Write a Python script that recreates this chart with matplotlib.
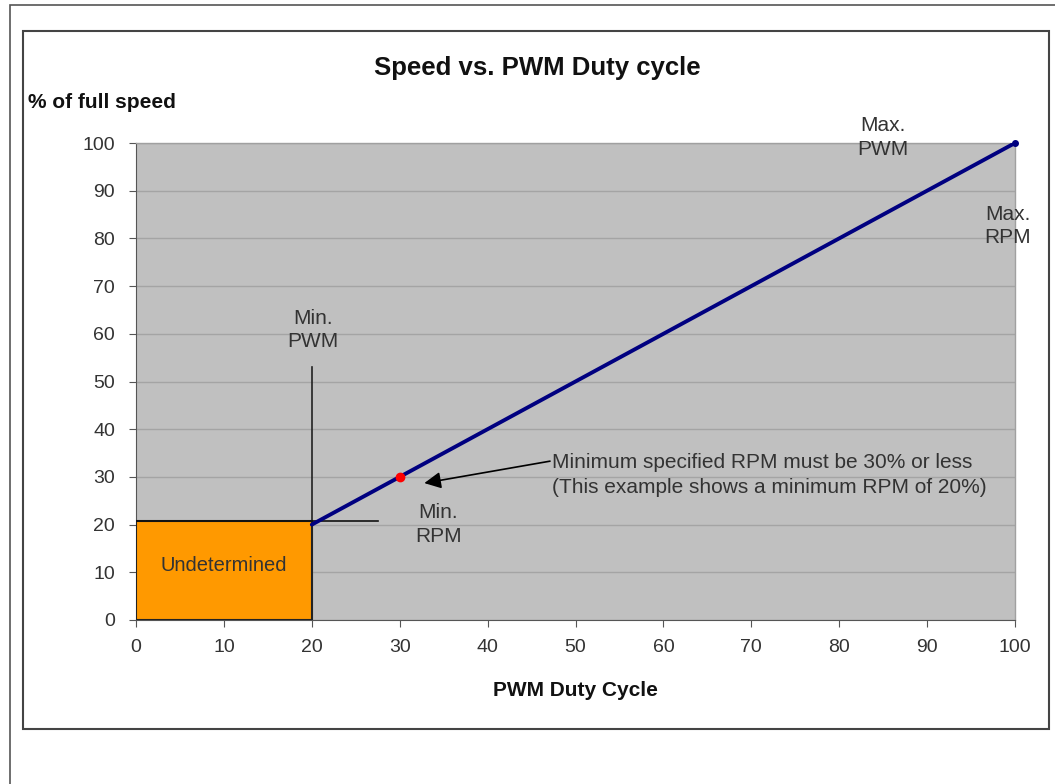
import matplotlib.pyplot as plt
from matplotlib.patches import Rectangle

plt.rcParams['font.family'] = ['Liberation Sans', 'DejaVu Sans']

# data
duty = [20, 100]
speed = [20, 100]
min_point = (30, 30)
undetermined_box = (20, 20.7)   # width, height of the orange zone
min_pwm_line = [0, 53]
min_rpm_line = [0, 27.5]
x_ticks = list(range(0, 101, 10))
y_ticks = list(range(0, 101, 10))

fig = plt.figure(figsize=(10.55, 7.84), dpi=100)

# outer frames
fig.patches.append(Rectangle((10 / 1055, -0.01), 1.1, 1 - 5 / 784 + 0.01, transform=fig.transFigure,
                             fill=False, edgecolor='#555555', lw=1.2))
fig.patches.append(Rectangle((23 / 1055, 1 - 729 / 784), 1026 / 1055, 698 / 784, transform=fig.transFigure,
                             fill=False, edgecolor='#444444', lw=1.5))

ax = fig.add_axes([136 / 1055, 1 - 620 / 784, 879 / 1055, 477 / 784])
ax.set_facecolor('#c0c0c0')
ax.set_xlim(0, 100)
ax.set_ylim(0, 100)
ax.set_xticks(x_ticks)
ax.set_yticks(y_ticks)
ax.grid(axis='y', color='#a4a4a4', lw=1)
ax.set_axisbelow(True)
for s in ['top', 'right']:
    ax.spines[s].set_color('#a0a0a0')
    ax.spines[s].set_linewidth(1)
ax.spines['left'].set_color('#555555')
ax.spines['bottom'].set_color('#555555')
ax.tick_params(direction='out', length=5, color='#555555', labelsize=14, labelcolor='#333333')
ax.tick_params(axis='x', pad=9)
ax.tick_params(axis='y', pad=10)

# orange undetermined area
ax.add_patch(Rectangle((0, 0), undetermined_box[0], undetermined_box[1], facecolor='#ff9900',
                       edgecolor='#222222', lw=1.5, zorder=3))
ax.text(10, 11.5, 'Undetermined', ha='center', va='center', fontsize=14.5, color='#333333', zorder=4)

# marker lines
ax.plot([20, 20], min_pwm_line, color='#222222', lw=1.2, zorder=4)
ax.plot(min_rpm_line, [20.7, 20.7], color='#111111', lw=1.2, zorder=4)

# speed line
ax.plot(duty, speed, color='#000080', lw=2.8, zorder=5, solid_capstyle='round')
ax.plot([100], [100], 'o', color='#000080', ms=4, zorder=5, clip_on=False)
ax.plot([min_point[0]], [min_point[1]], 'o', color='#ff0000', ms=6, zorder=6)

txt = dict(fontsize=15, color='#333333', ha='center', va='center', linespacing=1.3)
ax.text(85, 101.2, 'Max.\nPWM', **txt)
ax.text(99.2, 82.6, 'Max.\nRPM', **txt)
ax.text(20.1, 60.8, 'Min.\nPWM', **txt)
ax.text(34.4, 20.0, 'Min.\nRPM', **txt)

ax.text(47.3, 30.4, 'Minimum specified RPM must be 30% or less\n(This example shows a minimum RPM of 20%)',
        ha='left', va='center', fontsize=15, color='#333333', linespacing=1.35)
ax.annotate('', xy=(32.8, 28.7), xytext=(47.1, 33.3),
            arrowprops=dict(arrowstyle='-|>', color='black', lw=1.2, mutation_scale=25,
                            shrinkA=0, shrinkB=0))

fig.text(537 / 1055, 1 - 68 / 784, 'Speed vs. PWM Duty cycle', ha='center', va='center',
         fontsize=18.5, fontweight='bold', color='#111111')
fig.text(28 / 1055, 1 - 103 / 784, '% of full speed', ha='left', va='center',
         fontsize=15, fontweight='bold', color='#111111')
fig.text(575 / 1055, 1 - 690 / 784, 'PWM Duty Cycle', ha='center', va='center',
         fontsize=15, fontweight='bold', color='#111111')

fig.savefig('out.png', dpi=100)
